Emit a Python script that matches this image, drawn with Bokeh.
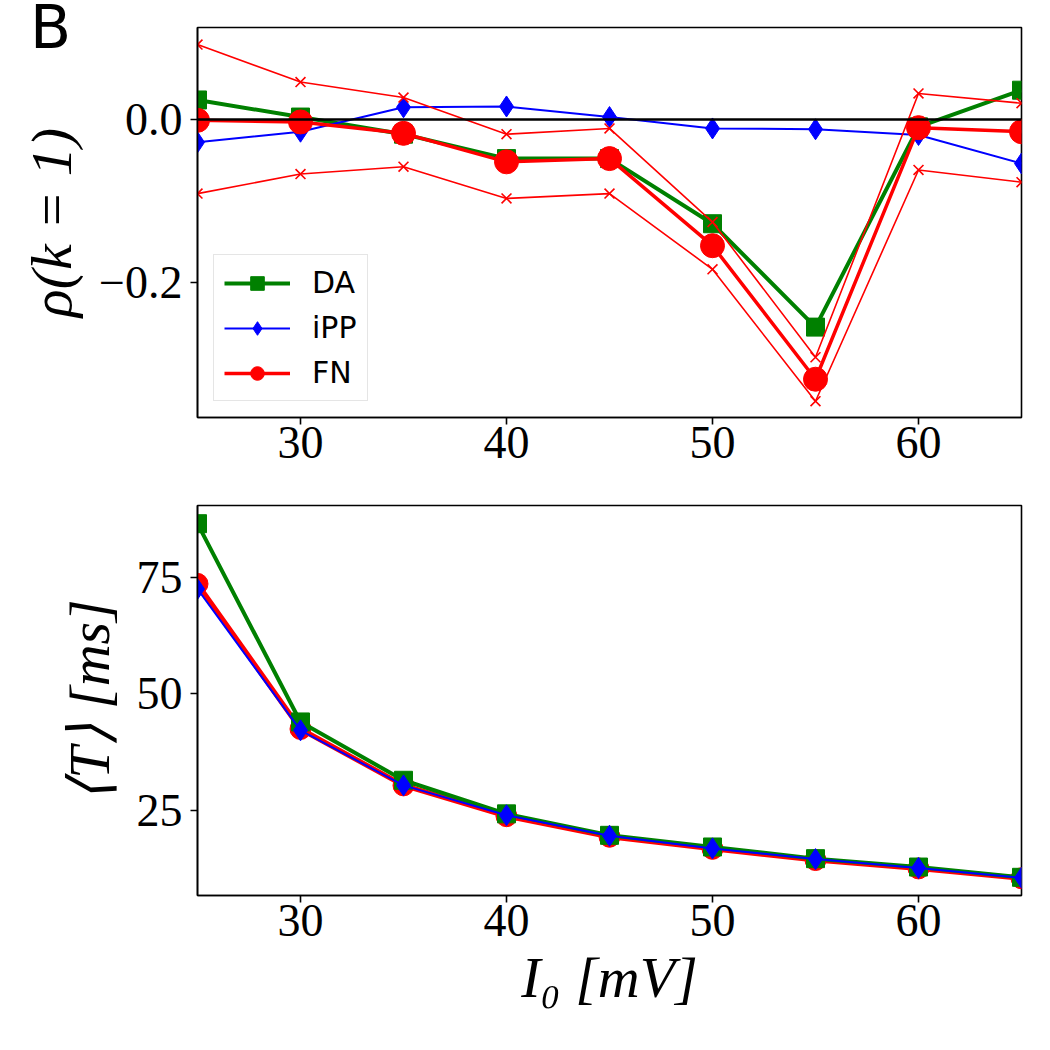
from bokeh.plotting import figure
from bokeh.layouts import column
from bokeh.models import (Range1d, FixedTicker, CustomJSTickFormatter, Span,
                          Legend, LegendItem, Div)
from bokeh.embed import file_html
from bokeh.resources import INLINE

# Input current I0 [mV]
I0 = [25, 30, 35, 40, 45, 50, 55, 60, 65]

# Serial correlation coefficient rho(k=1)
rho_DA = [0.024, 0.003, -0.018, -0.048, -0.048, -0.128, -0.255, -0.009, 0.036]
rho_iPP = [-0.028, -0.015, 0.015, 0.016, 0.003, -0.011, -0.012, -0.019, -0.054]
rho_FN = [-0.001, -0.003, -0.017, -0.052, -0.048, -0.155, -0.319, -0.010, -0.015]
rho_FN_hi = [0.092, 0.046, 0.027, -0.018, -0.011, -0.126, -0.292, 0.032, 0.020]
rho_FN_lo = [-0.091, -0.067, -0.058, -0.097, -0.091, -0.184, -0.346, -0.062, -0.077]

# Mean interspike interval <T> [ms]
T_DA = [86.5, 44.0, 31.5, 24.3, 19.7, 17.2, 14.7, 12.9, 10.7]
T_iPP = [72.5, 42.2, 30.4, 24.0, 19.6, 16.9, 14.6, 12.7, 10.6]
T_FN = [73.6, 42.5, 30.4, 23.8, 19.4, 16.8, 14.4, 12.6, 10.5]

x_ticks = [30, 40, 50, 60]
rho_ticks = [-0.2, 0.0]
T_ticks = [25, 50, 75]

GREEN, BLUE, RED = "#008000", "#0000ff", "#ff0000"
SERIF = "Liberation Serif"


def style(p, yticks, yfmt, ylabel, xlabel=None):
    p.grid.visible = False
    p.outline_line_color = "black"
    p.outline_line_width = 1.6
    p.outline_line_alpha = 1.0
    for ax in (p.xaxis[0], p.yaxis[0]):
        ax.axis_line_color = "black"
        ax.axis_line_width = 1.6
        ax.major_tick_line_color = "black"
        ax.major_tick_line_width = 1.6
        ax.major_tick_out = 7
        ax.major_tick_in = 0
        ax.minor_tick_line_color = None
        ax.major_label_text_font = SERIF
        ax.major_label_text_font_size = "46px"
        ax.major_label_text_color = "black"
        ax.axis_label_text_font = SERIF
        ax.axis_label_text_font_style = "italic"
        ax.axis_label_text_font_size = "58px"
        ax.axis_label_text_color = "black"
    p.xaxis.ticker = FixedTicker(ticks=x_ticks)
    p.xaxis.major_label_standoff = 2
    p.yaxis.ticker = FixedTicker(ticks=yticks)
    p.yaxis.formatter = CustomJSTickFormatter(code=yfmt)
    p.yaxis.major_label_standoff = 8
    p.yaxis.axis_label = ylabel
    p.yaxis.axis_label_standoff = 12
    if xlabel:
        p.xaxis.axis_label = xlabel
        p.xaxis.axis_label_standoff = 6


# ---- top panel: rho(k=1) ----
p1 = figure(width=1050, height=487, output_backend="svg", toolbar_location=None,
            x_range=Range1d(25, 65), y_range=Range1d(-0.366, 0.113),
            min_border_left=197, min_border_right=29, min_border_top=27,
            min_border_bottom=70, border_fill_alpha=0)
style(p1, rho_ticks,
      "return (tick < -1e-9 ? '\u2212' : '') + Math.abs(tick).toFixed(1);",
      "\u03c1(k = 1)")

p1.add_layout(Span(location=0, dimension="width", line_color="black", line_width=2.4))

da_l = p1.line(I0, rho_DA, line_color=GREEN, line_width=4)
da_m = p1.scatter(I0, rho_DA, marker="square", size=18, fill_color=GREEN, line_color=GREEN)
ipp_l = p1.line(I0, rho_iPP, line_color=BLUE, line_width=2)
ipp_m = p1.scatter(I0, rho_iPP, marker="diamond", size=21, fill_color=BLUE, line_color=BLUE)
for band in (rho_FN_hi, rho_FN_lo):
    p1.line(I0, band, line_color=RED, line_width=1.6)
    p1.scatter(I0, band, marker="x", size=14, line_color=RED, line_width=1.6)
fn_l = p1.line(I0, rho_FN, line_color=RED, line_width=3.5)
fn_m = p1.scatter(I0, rho_FN, marker="circle", size=24, fill_color=RED, line_color=RED)

legend = Legend(items=[
    LegendItem(label="DA", renderers=[da_l, da_m]),
    LegendItem(label="iPP", renderers=[ipp_l, ipp_m]),
    LegendItem(label="FN", renderers=[fn_l, fn_m]),
], location="bottom_left")
legend.margin = 16
legend.padding = 10
legend.spacing = 10
legend.glyph_width = 66
legend.glyph_height = 34
legend.label_height = 34
legend.label_standoff = 22
legend.label_text_font = "DejaVu Sans"
legend.label_text_font_size = "30px"
legend.label_text_color = "black"
legend.border_line_color = "#cccccc"
legend.border_line_width = 1.3
legend.background_fill_alpha = 0.85
p1.add_layout(legend, "center")

# panel letter, overlapping the top-left corner of the first figure
letter = Div(text="B", width=80, height=90, margin=(0, 0, -90, 30),
             styles={"font-family": "DejaVu Sans", "font-size": "60px",
                     "line-height": "54px", "overflow": "visible",
                     "color": "black", "z-index": "5"})

# ---- bottom panel: mean interval ----
p2 = figure(width=1050, height=563, output_backend="svg", toolbar_location=None,
            x_range=Range1d(25, 65), y_range=Range1d(6.8, 90.4),
            min_border_left=197, min_border_right=29, min_border_top=18,
            min_border_bottom=155)
style(p2, T_ticks, "return tick.toFixed(0);", "\u27e8T\u27e9 [ms]", "I\u2080 [mV]")

p2.line(I0, T_FN, line_color=RED, line_width=5)
p2.scatter(I0, T_FN, marker="circle", size=21, fill_color=RED, line_color=RED)
p2.line(I0, T_DA, line_color=GREEN, line_width=4)
p2.scatter(I0, T_DA, marker="square", size=18, fill_color=GREEN, line_color=GREEN)
p2.line(I0, T_iPP, line_color=BLUE, line_width=2)
p2.scatter(I0, T_iPP, marker="diamond", size=21, fill_color=BLUE, line_color=BLUE)

layout = column(letter, p1, p2, spacing=0)
open("out.html", "w").write(file_html(layout, INLINE))
